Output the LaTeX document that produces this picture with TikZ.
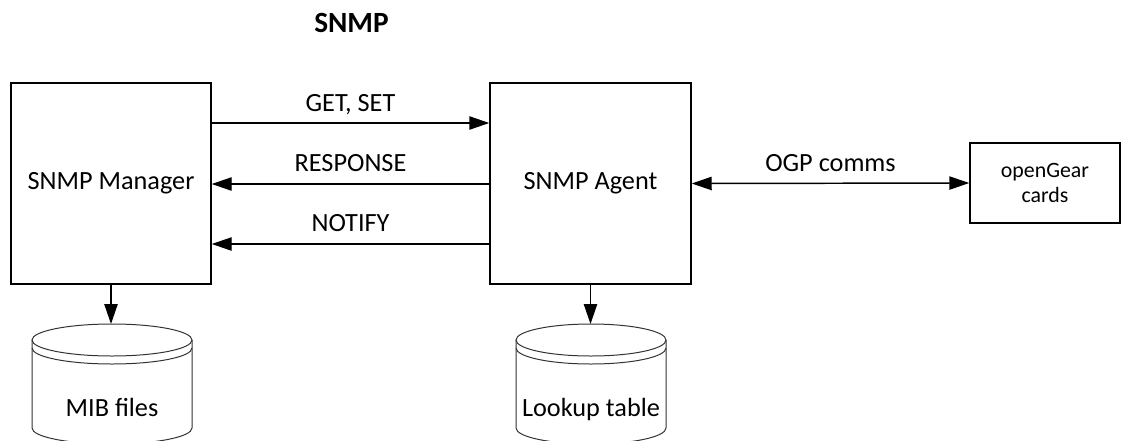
\documentclass[tikz,border=0pt]{standalone}
\usepackage{fontspec}
\setmainfont{Carlito}
\usetikzlibrary{arrows.meta,positioning}

\begin{document}
\begin{tikzpicture}[x=0.75pt,y=-0.75pt,every node/.style={font=\fontsize{19.7}{23}\selectfont},
  box/.style={draw,line width=1.1pt,inner sep=0pt},
  arr/.style={line width=1.1pt,-{Triangle[length=15pt,width=10pt]}},
  cyl/.style={draw,line width=.75pt,black!80}]
\useasboundingbox (0,0) rectangle (1125,440);
\node[anchor=base,font=\bfseries\fontsize{22}{26}\selectfont] (title) at (351.5,32) {SNMP};
\node[box,minimum width=150pt,minimum height=150.75pt] (mgr) at (111,183.5) {SNMP Manager};
\node[box,minimum width=150.75pt,minimum height=150.75pt] (agt) at (590.5,183.5) {SNMP Agent};
\node[box,minimum width=112.5pt,minimum height=60pt,align=center,font=\fontsize{16.4}{18.75}\selectfont] (cards) at (1045,183) {openGear\\cards};
% messages between manager and agent
\draw[arr] (mgr.east |- 0,123) -- (agt.west |- 0,123) node[midway,anchor=base,yshift=9pt] {GET, SET};
\draw[arr] (agt.west |- 0,184) -- (mgr.east |- 0,184) node[midway,anchor=base,yshift=9.2pt] {RESPONSE};
\draw[arr] (agt.west |- 0,244) -- (mgr.east |- 0,244) node[midway,anchor=base,yshift=9.2pt] {NOTIFY};
\draw[arr,{Triangle[length=15pt,width=10pt]}-{Triangle[length=15pt,width=10pt]}] (agt.east) -- (cards.west) node[midway,anchor=base,yshift=8.6pt] {OGP comms};
% data stores
\foreach \cx/\rx/\nm/\txt in {112/80/mib/MIB files,591/75/lut/Lookup table}{
  \draw[cyl] (\cx,340) ellipse[x radius=\rx,y radius=16];
  \draw[cyl] (\cx-\rx,340) -- (\cx-\rx,428) arc[start angle=180,end angle=0,x radius=\rx,y radius=16] -- (\cx+\rx,340);
  \draw[cyl] (\cx-\rx,348) arc[start angle=180,end angle=0,x radius=\rx,y radius=16];
  \coordinate (\nm-top) at (\cx,324);
  \node[anchor=base] (\nm) at (\cx,416) {\txt};
}
\draw[arr] (mgr.south) -- (mgr.south |- mib-top);
\draw[arr] (agt.south) -- (agt.south |- lut-top);
\end{tikzpicture}
\end{document}
